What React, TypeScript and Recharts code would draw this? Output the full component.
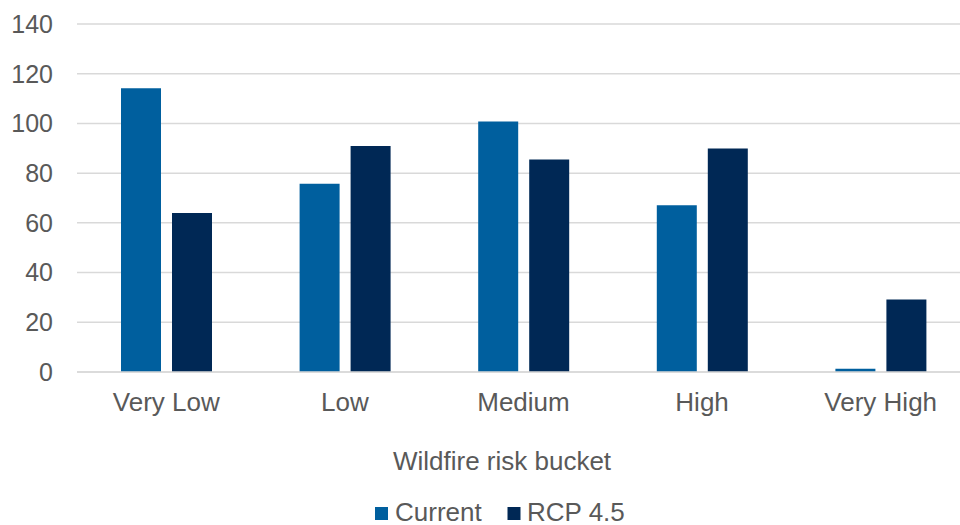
import React from 'react';
import { BarChart, Bar, XAxis, YAxis, CartesianGrid } from 'recharts';

const categories = ['Very Low', 'Low', 'Medium', 'High', 'Very High'];
const currentValues = [114.2, 75.7, 100.8, 67.1, 1.3];
const rcpValues = [64.0, 90.9, 85.5, 89.9, 29.2];
const yTicks = [0, 20, 40, 60, 80, 100, 120, 140];
const seriesNames = ['Current', 'RCP 4.5'];
const axisTitle = 'Wildfire risk bucket';

const COLORS = ['#005F9E', '#002855'];
const FONT = '"Liberation Sans", Arial, sans-serif';
const TEXT = '#595959';

const data = categories.map((c, i) => ({
  name: c,
  current: currentValues[i],
  rcp: rcpValues[i],
}));

export default function App() {
  return (
    <div
      style={{
        position: 'fixed',
        left: 0,
        top: 0,
        width: 960,
        height: 525,
        overflow: 'hidden',
        background: '#fff',
        fontFamily: FONT,
      }}
    >
      <BarChart
        width={980}
        height={525}
        data={data}
        margin={{ top: 24, right: 10, bottom: 93, left: 0 }}
        barGap={11}
      >
        <CartesianGrid vertical={false} stroke="#D9D9D9" strokeWidth={1.5} />
        <YAxis
          width={77}
          domain={[0, 140]}
          ticks={yTicks}
          tickLine={false}
          axisLine={false}
          tickMargin={18}
          tick={{ fontSize: 25, fill: TEXT, fontFamily: FONT }}
        />
        <XAxis
          dataKey="name"
          height={60}
          tickLine={false}
          axisLine={{ stroke: '#D9D9D9', strokeWidth: 1.5 }}
          tickMargin={15}
          interval={0}
          tick={{ fontSize: 26, fill: TEXT, fontFamily: FONT }}
        />
        <Bar dataKey="current" name={seriesNames[0]} fill={COLORS[0]} barSize={40} isAnimationActive={false} />
        <Bar dataKey="rcp" name={seriesNames[1]} fill={COLORS[1]} barSize={40} isAnimationActive={false} />
      </BarChart>
      <svg
        width={960}
        height={525}
        style={{ position: 'absolute', left: 0, top: 0, pointerEvents: 'none' }}
      >
        <text x={502} y={470} textAnchor="middle" fontSize={26} fill={TEXT} fontFamily={FONT}>
          {axisTitle}
        </text>
        <rect x={375} y={507} width={13} height={13} fill={COLORS[0]} />
        <text x={395} y={521} fontSize={26} fill={TEXT} fontFamily={FONT}>
          {seriesNames[0]}
        </text>
        <rect x={507.5} y={507} width={13} height={13} fill={COLORS[1]} />
        <text x={527} y={521} fontSize={26} fill={TEXT} fontFamily={FONT}>
          {seriesNames[1]}
        </text>
      </svg>
    </div>
  );
}
